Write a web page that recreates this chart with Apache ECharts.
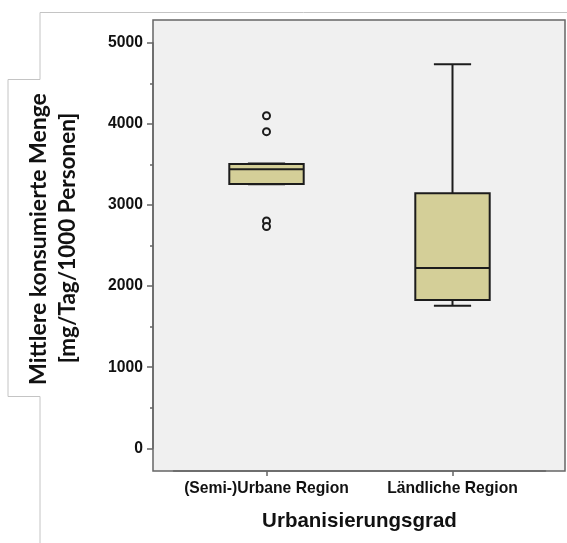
<!DOCTYPE html>
<html>
<head>
<meta charset="utf-8">
<script src="https://cdn.jsdelivr.net/npm/echarts@6/dist/echarts.min.js"></script>
<style>
  html, body { margin: 0; padding: 0; background: #ffffff; }
  #chart { width: 567px; height: 543px; }
</style>
</head>
<body>
<div id="chart"></div>
<script>
// Mean consumed amount per region type (boxplot statistics)
const categories = ['(Semi-)Urbane Region', 'Ländliche Region'];
const whiskerLow = [3255, 1758];
const quartile1 = [3258, 1828];
const medians = [3440, 2223];
const quartile3 = [3505, 3143];
const whiskerHigh = [3512, 4734];
// Outliers: category index and value
const outlierCategory = [0, 0, 0, 0];
const outlierValues = [4100, 3903, 2802, 2734];
const yTicks = [0, 1000, 2000, 3000, 4000, 5000];

const boxRows = categories.map((c, i) => [i, whiskerLow[i], quartile1[i], medians[i], quartile3[i], whiskerHigh[i]]);
const outlierPoints = outlierValues.map((v, i) => [outlierCategory[i], v]);

const FONT = 'Liberation Sans';
const BOX_FILL = '#d4cf98';
const INK = '#1c1c1c';
const FRAME = '#666666';

function renderBox(params, api) {
  const idx = api.value(0);
  const band = api.size([1, 0])[0];
  const half = band * 0.2;
  const capHalf = band * 0.1;
  const pMin = api.coord([idx, api.value(1)]);
  const pQ1 = api.coord([idx, api.value(2)]);
  const pMed = api.coord([idx, api.value(3)]);
  const pQ3 = api.coord([idx, api.value(4)]);
  const pMax = api.coord([idx, api.value(5)]);
  const x = pMed[0];
  const lineStyle = { stroke: INK, lineWidth: 2 };
  return {
    type: 'group',
    children: [
      { type: 'line', shape: { x1: x, y1: pMax[1], x2: x, y2: pQ3[1] }, style: lineStyle },
      { type: 'line', shape: { x1: x, y1: pQ1[1], x2: x, y2: pMin[1] }, style: lineStyle },
      { type: 'line', shape: { x1: x - capHalf, y1: pMax[1], x2: x + capHalf, y2: pMax[1] }, style: lineStyle },
      { type: 'line', shape: { x1: x - capHalf, y1: pMin[1], x2: x + capHalf, y2: pMin[1] }, style: lineStyle },
      { type: 'rect', shape: { x: x - half, y: pQ3[1], width: half * 2, height: pQ1[1] - pQ3[1] },
        style: { fill: BOX_FILL, stroke: INK, lineWidth: 2 } },
      { type: 'line', shape: { x1: x - half, y1: pMed[1], x2: x + half, y2: pMed[1] }, style: lineStyle }
    ]
  };
}

const chart = echarts.init(document.getElementById('chart'), null, { renderer: 'canvas' });
chart.setOption({
  animation: false,
  backgroundColor: '#ffffff',
  grid: [
    // data grid: y from 0 to 5000, categories spaced inside the frame
    { left: 173.5, right: 21.5, top: 42.7, height: 405.6, containLabel: false, z: 2 },
    // frame grid: grey panel with border
    { left: 153, right: 2, top: 20, bottom: 72, show: true, backgroundColor: '#f0f0f0',
      borderColor: FRAME, borderWidth: 1.5, z: 0 }
  ],
  xAxis: [
    {
      gridIndex: 0, type: 'category', data: categories, boundaryGap: true, offset: 22.7,
      axisLine: { show: true, onZero: false, lineStyle: { color: FRAME, width: 1.5 } },
      axisTick: { show: true, alignWithLabel: true, length: 5, lineStyle: { color: FRAME, width: 1.5 } },
      axisLabel: { interval: 0, color: '#111', fontFamily: FONT, fontWeight: 'bold', fontSize: 15.7, margin: 10 },
      name: 'Urbanisierungsgrad', nameLocation: 'middle', nameGap: 40,
      nameTextStyle: { color: '#111', fontFamily: FONT, fontWeight: 'bold', fontSize: 20.5 },
      splitLine: { show: false }
    },
    { gridIndex: 1, type: 'value', show: false }
  ],
  yAxis: [
    {
      gridIndex: 0, type: 'value', min: yTicks[0], max: yTicks[yTicks.length - 1], interval: 1000, offset: 20.5,
      axisLine: { show: true, onZero: false, lineStyle: { color: FRAME, width: 1.5 } },
      axisTick: { show: true, length: 6, lineStyle: { color: FRAME, width: 1.5 } },
      minorTick: { show: true, splitNumber: 2, length: 3, lineStyle: { color: FRAME, width: 1.5 } },
      axisLabel: { color: '#111', fontFamily: FONT, fontWeight: 'bold', fontSize: 15.7, margin: 10,
                   formatter: (v) => String(v) },
      splitLine: { show: false }
    },
    { gridIndex: 1, type: 'value', show: false }
  ],
  graphic: [
    {
      type: 'polyline', silent: true, z: -1,
      shape: { points: [[40, 543], [40, 396.5], [8, 396.5], [8, 79.5], [40, 79.5], [40, 12.5], [567, 12.5]] },
      style: { stroke: '#c4c4c4', lineWidth: 1, fill: null }
    },
    {
      type: 'text', x: 39, y: 239, rotation: Math.PI / 2,
      style: { text: 'Mittlere konsumierte Menge', font: 'bold 23px Lato', fill: '#111',
               align: 'center', verticalAlign: 'middle' }
    },
    {
      type: 'text', x: 68, y: 238, rotation: Math.PI / 2,
      style: { text: '[mg/Tag/1000 Personen]', font: 'bold 22.5px Lato', fill: '#111',
               align: 'center', verticalAlign: 'middle' }
    }
  ],
  series: [
    {
      type: 'custom', xAxisIndex: 0, yAxisIndex: 0, renderItem: renderBox,
      encode: { x: 0, y: [1, 2, 3, 4, 5] }, data: boxRows, z: 3
    },
    {
      type: 'scatter', xAxisIndex: 0, yAxisIndex: 0, data: outlierPoints, symbol: 'circle', symbolSize: 7,
      itemStyle: { color: '#f0f0f0', borderColor: INK, borderWidth: 2, opacity: 1 }, z: 4
    }
  ]
});
</script>
</body>
</html>
